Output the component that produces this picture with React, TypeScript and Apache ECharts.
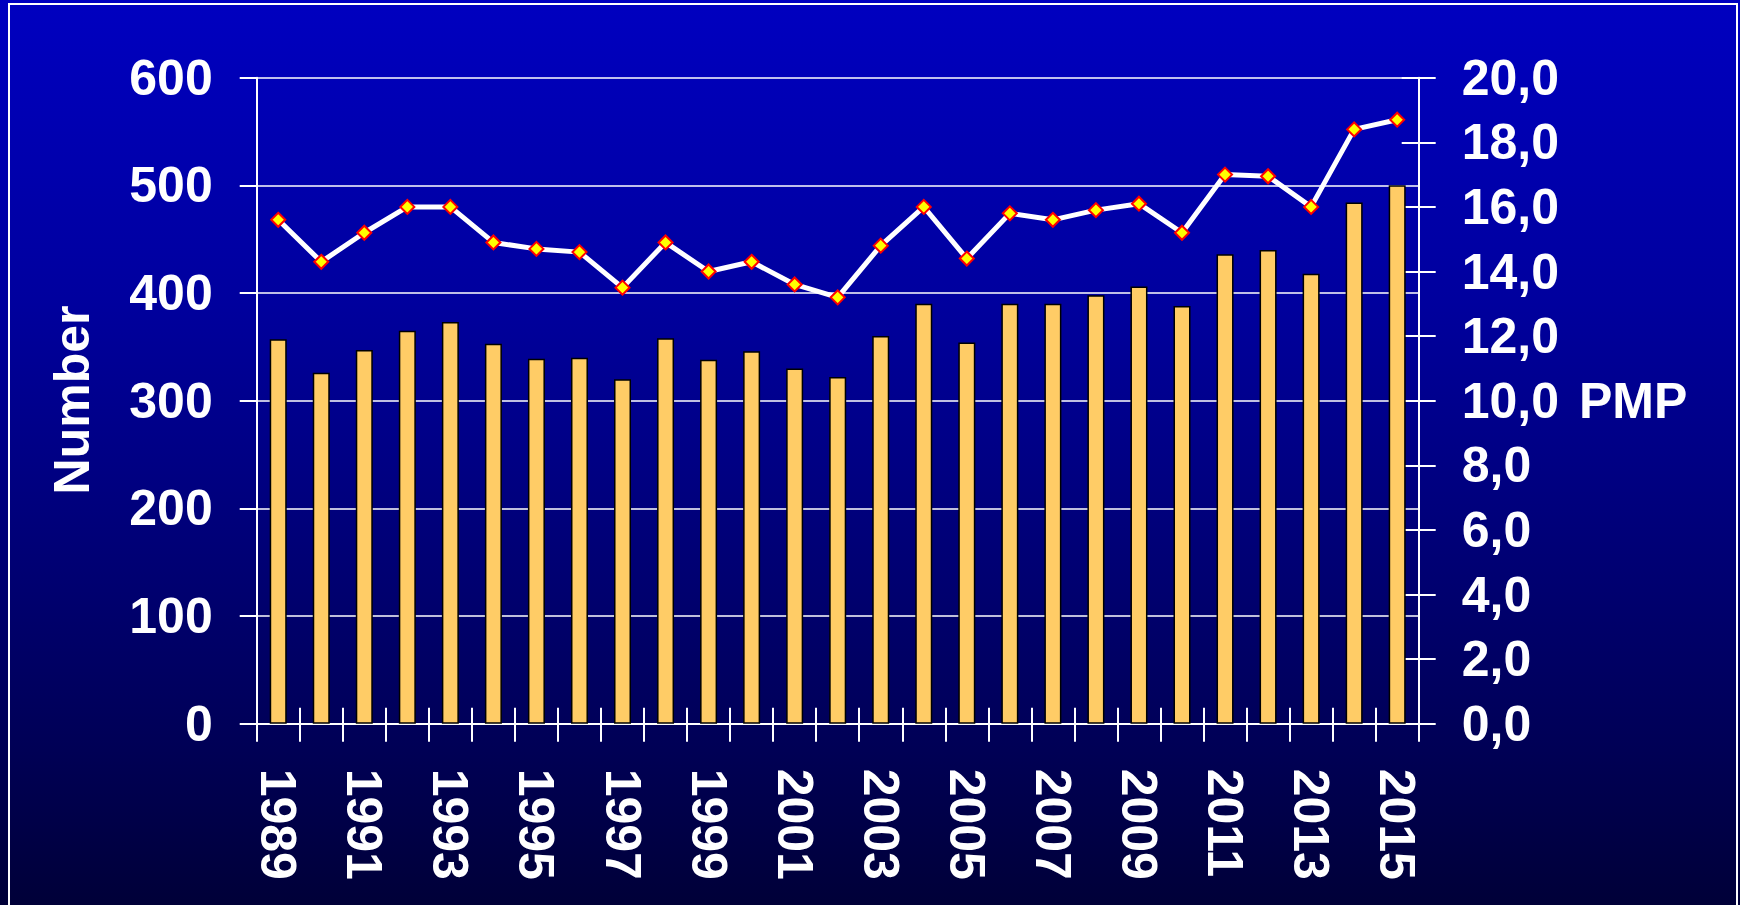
import React, { useEffect, useRef } from "react";
import * as echarts from "echarts";

const years = [
  "1989", "1990", "1991", "1992", "1993", "1994", "1995", "1996", "1997",
  "1998", "1999", "2000", "2001", "2002", "2003", "2004", "2005", "2006",
  "2007", "2008", "2009", "2010", "2011", "2012", "2013", "2014", "2015",
];

const numbers = [
  357, 326, 347, 365, 373, 353, 339, 340, 320, 358, 338, 346, 330, 322, 360,
  390, 354, 390, 390, 398, 406, 388, 436, 440, 418, 484, 500,
];

const pmp = [
  15.6, 14.3, 15.2, 16.0, 16.0, 14.9, 14.7, 14.6, 13.5, 14.9, 14.0, 14.3,
  13.6, 13.2, 14.8, 16.0, 14.4, 15.8, 15.6, 15.9, 16.1, 15.2, 17.0, 16.95,
  16.0, 18.4, 18.7,
];

const leftTitle = "Number";
const rightUnit = "PMP";

const FONT = '"Liberation Sans", Arial, Helvetica, sans-serif';

export default function App() {
  const ref = useRef<HTMLDivElement>(null);

  useEffect(() => {
    if (!ref.current) return;
    const chart = echarts.init(ref.current, null, { renderer: "svg" });

    const labelStyle = {
      color: "#ffffff",
      fontSize: 50,
      fontWeight: "bold" as const,
      fontFamily: FONT,
    };
    const white = { color: "#ffffff", width: 2 };

    const option = {
      animation: false,
      grid: { left: 256.7, right: 321.3, top: 77.7, bottom: 181.3 },
      graphic: [
        {
          type: "rect",
          z: -100,
          silent: true,
          shape: { x: 0, y: 0, width: 1740, height: 905 },
          style: {
            fill: new echarts.graphic.LinearGradient(0, 0, 0, 1, [
              { offset: 0, color: "#0000C0" },
              { offset: 0.33, color: "#00009E" },
              { offset: 0.83, color: "#000055" },
              { offset: 1, color: "#000038" },
            ]),
          },
        },
        {
          type: "rect",
          z: -50,
          silent: true,
          shape: { x: 9, y: 4, width: 1728, height: 960 },
          style: { fill: "none", stroke: "#ffffff", lineWidth: 2 },
        },
        {
          type: "text",
          x: 72,
          y: 400,
          rotation: Math.PI / 2,
          style: {
            text: leftTitle,
            fill: "#ffffff",
            font: `bold 50px ${FONT}`,
            align: "center",
            verticalAlign: "middle",
          },
        },
      ],
      xAxis: [
        {
          type: "category",
          data: years,
          position: "bottom",
          boundaryGap: true,
          axisLine: { show: true, lineStyle: white },
          axisTick: { show: true, interval: 0, length: 18, lineStyle: white },
          axisLabel: {
            ...labelStyle,
            interval: 1,
            rotate: -90,
            margin: 45,
          },
          splitLine: { show: false },
        },
        {
          type: "category",
          data: years,
          position: "bottom",
          boundaryGap: true,
          axisLine: { show: false },
          axisTick: {
            show: true,
            inside: true,
            interval: 0,
            length: 16,
            lineStyle: white,
          },
          axisLabel: { show: false },
          splitLine: { show: false },
        },
      ],
      yAxis: [
        {
          type: "value",
          position: "left",
          min: 0,
          max: 600,
          interval: 100,
          axisLine: { show: true, lineStyle: white },
          axisTick: { show: true, length: 17, lineStyle: white },
          axisLabel: { ...labelStyle, margin: 44 },
          splitLine: { show: true, lineStyle: { color: "#ffffff", width: 1.6 } },
        },
        {
          type: "value",
          position: "right",
          min: 0,
          max: 20,
          interval: 2,
          axisLine: { show: true, lineStyle: white },
          axisTick: { show: true, length: 17, lineStyle: white },
          axisLabel: {
            ...labelStyle,
            margin: 43,
            formatter: (v: number) => {
              const s = v.toFixed(1).replace(".", ",");
              return v === 10 ? `{a|${s}}{u|${rightUnit}}` : `{a|${s}}`;
            },
            rich: {
              a: { ...labelStyle },
              u: { ...labelStyle, padding: [0, 0, 0, 20] },
            },
          },
          splitLine: { show: false },
        },
        {
          type: "value",
          position: "right",
          min: 0,
          max: 20,
          interval: 2,
          axisLine: { show: false },
          axisTick: { show: true, inside: true, length: 17, lineStyle: white },
          axisLabel: { show: false },
          splitLine: { show: false },
        },
      ],
      series: [
        {
          name: leftTitle,
          type: "bar",
          xAxisIndex: 0,
          yAxisIndex: 0,
          data: numbers,
          barWidth: 17,
          itemStyle: {
            color: "#FFCC66",
            borderColor: "#000000",
            borderWidth: 1.5,
          },
          z: 2,
        },
        {
          name: rightUnit,
          type: "line",
          xAxisIndex: 0,
          yAxisIndex: 1,
          data: pmp,
          symbol: "diamond",
          symbolSize: 14,
          showAllSymbol: true,
          lineStyle: { color: "#ffffff", width: 5 },
          itemStyle: {
            color: "#FFFF00",
            borderColor: "#FF0000",
            borderWidth: 2,
          },
          z: 5,
        },
      ],
    };

    chart.setOption(option as any);
    return () => chart.dispose();
  }, []);

  return (
    <div
      ref={ref}
      style={{ position: "fixed", left: 0, top: 0, width: 1740, height: 905 }}
    />
  );
}
